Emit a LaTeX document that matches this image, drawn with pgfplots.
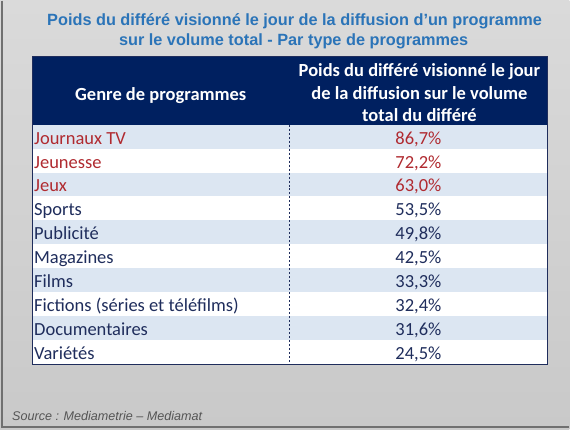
\documentclass[border=0pt]{standalone}
\usepackage{pgfplots}
\pgfplotsset{compat=1.18}
\usepackage{pgfplotstable}
\usepackage{fontspec}
\setmainfont{Carlito}
\newfontfamily\arialfont{Liberation Sans}
\definecolor{bgtop}{HTML}{DADADA}
\definecolor{bgbot}{HTML}{C9C9C9}
\definecolor{titleblue}{HTML}{2B74B8}
\definecolor{headnavy}{HTML}{002060}
\definecolor{rowblue}{HTML}{DCE6F2}
\definecolor{redtxt}{HTML}{B02A30}
\definecolor{navytxt}{HTML}{1F2D5C}
\definecolor{framegray}{HTML}{707070}
\definecolor{srcgray}{HTML}{555555}

\pgfplotstableread[col sep=comma]{
r,genre,val
0,Journaux TV,86.7
1,Jeunesse,72.2
2,Jeux,63.0
}\redrows
\pgfplotstableread[col sep=comma]{
r,genre,val
3,Sports,53.5
4,Publicité,49.8
5,Magazines,42.5
6,Films,33.3
7,Fictions (séries et téléfilms),32.4
8,Documentaires,31.6
9,Variétés,24.5
}\navyrows

\tikzset{rowtext/.style={font=\fontsize{18.5}{20}\selectfont, inner sep=0pt}}

\begin{document}
\begin{tikzpicture}
\begin{axis}[
  scale only axis, width=570pt, height=429pt,
  xmin=0, xmax=570, ymin=0, ymax=429, y dir=reverse,
  hide axis, clip=false,
  /pgf/number format/assume math mode=true,
]
% background
\shade[top color=bgtop, bottom color=bgbot] (axis cs:0,0) rectangle (axis cs:570,429);
\draw[framegray, line width=1.5pt] (axis cs:2,0) -- (axis cs:2,427) -- (axis cs:570,427);
% title
\node[anchor=base, text=titleblue, font=\arialfont\bfseries\fontsize{16.3}{18}\selectfont, inner sep=0pt] at (axis cs:295,25) {Poids du différé visionné le jour de la diffusion d’un programme};
\node[anchor=base, text=titleblue, font=\arialfont\bfseries\fontsize{16.3}{18}\selectfont, inner sep=0pt] at (axis cs:294,45) {sur le volume total - Par type de programmes};
% table body
\fill[white] (axis cs:32,124) rectangle (axis cs:548,364);
\pgfplotsinvokeforeach{0,2,4,6,8}{
  \fill[rowblue] (axis cs:32,{124+24*#1}) rectangle (axis cs:548,{148+24*#1});
}
\fill[headnavy] (axis cs:32,56) rectangle (axis cs:548,124);
\draw[navytxt, line width=0.8pt] (axis cs:32,56) rectangle (axis cs:548,364);
\draw[navytxt, line width=0.8pt, dash pattern=on 2pt off 2pt] (axis cs:290,124) -- (axis cs:290,364);
% header
\node[anchor=base, text=white, font=\bfseries\fontsize{18.5}{20}\selectfont, inner sep=0pt] at (axis cs:161,100) {Genre de programmes};
\node[anchor=base, text=white, font=\bfseries\fontsize{18.5}{20}\selectfont, inner sep=0pt] at (axis cs:420,76) {Poids du différé visionné le jour};
\node[anchor=base, text=white, font=\bfseries\fontsize{18.5}{20}\selectfont, inner sep=0pt] at (axis cs:420,99) {de la diffusion sur le volume};
\node[anchor=base, text=white, font=\bfseries\fontsize{18.5}{20}\selectfont, inner sep=0pt] at (axis cs:420,121) {total du différé};
% data: genres
\addplot[only marks, mark=none, nodes near coords, point meta=explicit symbolic,
  nodes near coords style={anchor=base west, text=redtxt, rowtext}]
  table[x expr=34, y expr=\thisrow{r}*24+143.5, meta=genre] {\redrows};
\addplot[only marks, mark=none, nodes near coords, point meta=explicit symbolic,
  nodes near coords style={anchor=base west, text=navytxt, rowtext}]
  table[x expr=34, y expr=\thisrow{r}*24+143.5, meta=genre] {\navyrows};
% data: values
\addplot[only marks, mark=none, point meta=explicit,
  nodes near coords={\pgfmathprintnumber[fixed, fixed zerofill, precision=1, use comma, assume math mode=true]{\pgfplotspointmeta}\%},
  nodes near coords style={anchor=base, text=redtxt, rowtext}]
  table[x expr=419, y expr=\thisrow{r}*24+143.5, meta=val] {\redrows};
\addplot[only marks, mark=none, point meta=explicit,
  nodes near coords={\pgfmathprintnumber[fixed, fixed zerofill, precision=1, use comma, assume math mode=true]{\pgfplotspointmeta}\%},
  nodes near coords style={anchor=base, text=navytxt, rowtext}]
  table[x expr=419, y expr=\thisrow{r}*24+143.5, meta=val] {\navyrows};
% source
\node[anchor=base west, text=srcgray, font=\arialfont\itshape\fontsize{12.6}{14}\selectfont, inner sep=0pt] at (axis cs:12,420) {Source : Mediametrie – Mediamat};
\end{axis}
\end{tikzpicture}
\end{document}
